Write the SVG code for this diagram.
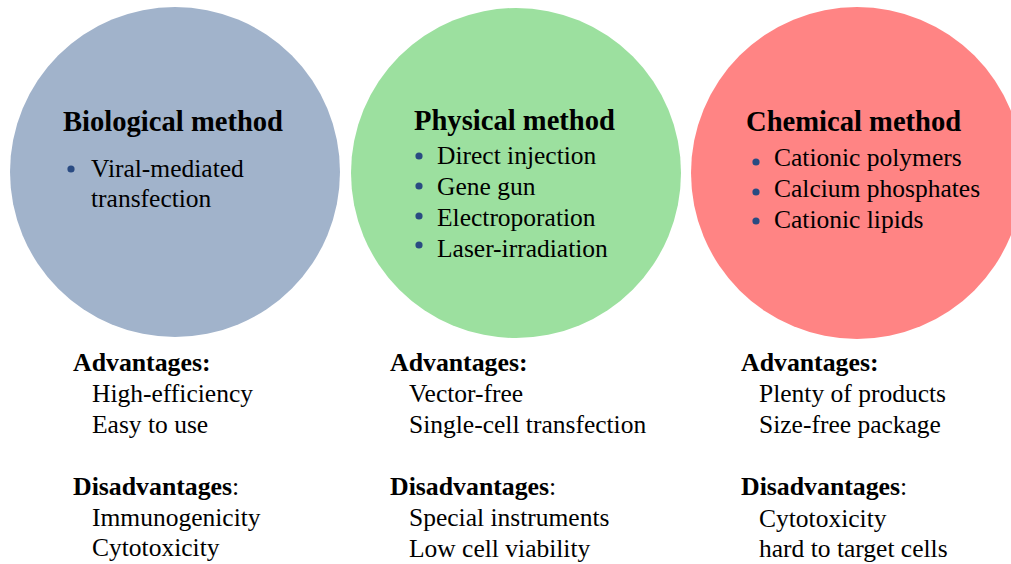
<svg xmlns="http://www.w3.org/2000/svg" width="1011" height="564" viewBox="0 0 1011 564">
  <style>
    text { font-family: "Liberation Serif", "Times New Roman", serif; fill: #000; }
    .head { font-size: 28.6px; font-weight: bold; }
    .item { font-size: 25.5px; }
    .lab { font-size: 25.8px; font-weight: bold; }
    .colon { font-weight: normal; }
    .dot { fill: #2A4B82; }
  </style>
  <rect width="1011" height="564" fill="#ffffff"/>

  <!-- Biological method -->
  <g id="biological">
    <circle cx="175" cy="172" r="165" fill="#A1B3CB"/>
    <text class="head" x="63" y="131">Biological method</text>
    <circle class="dot" cx="71" cy="169" r="3.6"/>
    <text class="item" x="91" y="177">Viral-mediated</text>
    <text class="item" x="91" y="207">transfection</text>
  </g>

  <!-- Physical method -->
  <g id="physical">
    <circle cx="516" cy="173" r="165" fill="#9CE09F"/>
    <text class="head" x="414" y="130">Physical method</text>
    <circle class="dot" cx="419" cy="156" r="3.6"/>
    <circle class="dot" cx="419" cy="186" r="3.6"/>
    <circle class="dot" cx="419" cy="216" r="3.6"/>
    <circle class="dot" cx="419" cy="245" r="3.6"/>
    <text class="item" x="437" y="164">Direct injection</text>
    <text class="item" x="437" y="195">Gene gun</text>
    <text class="item" x="437" y="226">Electroporation</text>
    <text class="item" x="437" y="257">Laser-irradiation</text>
  </g>

  <!-- Chemical method -->
  <g id="chemical">
    <circle cx="857" cy="173" r="166" fill="#FF8484"/>
    <text class="head" x="746" y="131">Chemical method</text>
    <circle class="dot" cx="756" cy="162" r="3.6"/>
    <circle class="dot" cx="756" cy="192" r="3.6"/>
    <circle class="dot" cx="756" cy="221" r="3.6"/>
    <text class="item" x="774" y="166">Cationic polymers</text>
    <text class="item" x="774" y="197">Calcium phosphates</text>
    <text class="item" x="774" y="228">Cationic lipids</text>
  </g>

  <!-- Pros and cons under each method -->
  <g id="biological-notes">
    <text class="lab" x="73" y="371">Advantages:</text>
    <text class="item" x="92" y="402">High-efficiency</text>
    <text class="item" x="92" y="433">Easy to use</text>
    <text class="lab" x="73" y="495">Disadvantages<tspan class="colon">:</tspan></text>
    <text class="item" x="92" y="526">Immunogenicity</text>
    <text class="item" x="92" y="556">Cytotoxicity</text>
  </g>

  <g id="physical-notes">
    <text class="lab" x="390" y="371">Advantages:</text>
    <text class="item" x="409" y="402">Vector-free</text>
    <text class="item" x="409" y="433">Single-cell transfection</text>
    <text class="lab" x="390" y="495">Disadvantages<tspan class="colon">:</tspan></text>
    <text class="item" x="409" y="526">Special instruments</text>
    <text class="item" x="409" y="557">Low cell viability</text>
  </g>

  <g id="chemical-notes">
    <text class="lab" x="741" y="371">Advantages:</text>
    <text class="item" x="759" y="402">Plenty of products</text>
    <text class="item" x="759" y="433">Size-free package</text>
    <text class="lab" x="741" y="495">Disadvantages<tspan class="colon">:</tspan></text>
    <text class="item" x="759" y="527">Cytotoxicity</text>
    <text class="item" x="759" y="557">hard to target cells</text>
  </g>

  <!-- no connectors in this figure -->
  <g id="connectors"/>
</svg>
